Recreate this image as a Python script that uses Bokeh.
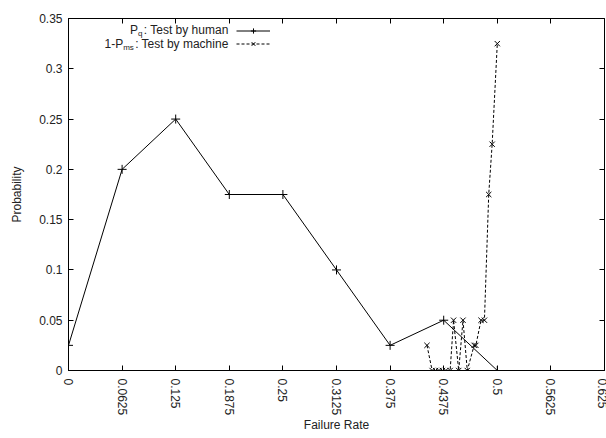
import math
from bokeh.plotting import figure
from bokeh.models import FixedTicker, LinearAxis, Range1d, Legend, LegendItem, Label
from bokeh.embed import file_html
from bokeh.resources import INLINE

# ---- data ----
human_x = [0.0, 0.0625, 0.125, 0.1875, 0.25, 0.3125, 0.375, 0.4375, 0.5]
human_y = [0.025, 0.2, 0.25, 0.175, 0.175, 0.1, 0.025, 0.05, 0.0]

machine_x = [0.418, 0.424, 0.428, 0.432, 0.436, 0.440, 0.445, 0.449, 0.455,
             0.460, 0.465, 0.473, 0.475, 0.481, 0.485, 0.490, 0.494, 0.500]
machine_y = [0.025, 0.0, 0.0, 0.0, 0.0, 0.0, 0.0, 0.05, 0.0,
             0.05, 0.0, 0.025, 0.025, 0.05, 0.05, 0.175, 0.225, 0.325]

x_ticks = [0.0, 0.0625, 0.125, 0.1875, 0.25, 0.3125, 0.375, 0.4375, 0.5, 0.5625, 0.625]
x_tick_labels = ["0", "0.0625", "0.125", "0.1875", "0.25", "0.3125", "0.375",
                 "0.4375", "0.5", "0.5625", "0.625"]
y_ticks = [0.0, 0.05, 0.1, 0.15, 0.2, 0.25, 0.3, 0.35]
y_tick_labels = ["0", "0.05", "0.1", "0.15", "0.2", "0.25", "0.3", "0.35"]

x_label = "Failure Rate"
y_label = "Probability"

FONT = "Liberation Sans"

p = figure(frame_width=536, frame_height=352,
           x_range=Range1d(0, 0.625), y_range=Range1d(0, 0.35),
           output_backend="svg", toolbar_location=None,
           min_border_left=68, min_border_right=2, min_border_top=18, min_border_bottom=60)
p.xgrid.visible = False
p.ygrid.visible = False
p.outline_line_color = "black"
p.outline_line_alpha = 1.0
p.outline_line_width = 1
p.background_fill_color = "white"
p.border_fill_color = "white"


def style_axis(ax, ticks, labels, show_labels=True):
    ax.ticker = FixedTicker(ticks=ticks)
    ax.major_tick_in = 5
    ax.major_tick_out = 0
    ax.minor_tick_line_color = None
    ax.major_tick_line_color = "black"
    ax.major_label_text_font = FONT
    if show_labels:
        ax.major_label_overrides = {t: l for t, l in zip(ticks, labels)}
        ax.major_label_text_font_size = "12px"
        ax.major_label_text_color = "#222222"
    else:
        ax.major_label_overrides = {t: "" for t in ticks}
        ax.major_label_text_font_size = "0px"
        ax.major_label_standoff = 0


xa = p.xaxis[0]
ya = p.yaxis[0]
style_axis(xa, x_ticks, x_tick_labels)
style_axis(ya, y_ticks, y_tick_labels)
xa.axis_line_color = "black"
ya.axis_line_color = "black"
xa.major_label_orientation = -math.pi / 2
xa.major_label_standoff = 8
ya.major_label_standoff = 6
xa.axis_label = x_label
ya.axis_label = y_label
for ax in (xa, ya):
    ax.axis_label_text_font = FONT
    ax.axis_label_text_font_size = "12px"
    ax.axis_label_text_font_style = "normal"
    ax.axis_label_text_color = "#222222"
xa.axis_label_standoff = 0
ya.axis_label_standoff = 12

top_ax = LinearAxis(axis_line_color=None)
style_axis(top_ax, x_ticks, x_tick_labels, show_labels=False)
p.add_layout(top_ax, "above")
right_ax = LinearAxis(axis_line_color=None)
style_axis(right_ax, y_ticks, y_tick_labels, show_labels=False)
p.add_layout(right_ax, "right")

# ---- series ----
h_line = p.line(human_x, human_y, line_color="black", line_width=1)
h_pts = p.scatter(human_x, human_y, marker="cross", size=9, line_color="black", line_width=1)
m_line = p.line(machine_x, machine_y, line_color="black", line_width=1, line_dash="3 2")
m_pts = p.scatter(machine_x, machine_y, marker="x", size=7.5, line_color="black", line_width=1)

# ---- legend (gnuplot style: text on the left, sample on the right) ----
legend = Legend(items=[LegendItem(label=" ", renderers=[h_line, h_pts]),
                       LegendItem(label=" ", renderers=[m_line, m_pts])],
                location=(168, 320), orientation="vertical",
                glyph_width=34, glyph_height=13, label_height=13, label_width=0,
                label_standoff=0, label_text_font_size="1px", padding=0, margin=0,
                spacing=0, border_line_color=None, background_fill_alpha=0)
p.add_layout(legend, "center")

xend = 0.1866
row1 = 0.3381
row2 = 0.3251
sub = 0.0035
common = dict(text_font=FONT, text_color="#222222", text_align="right", text_baseline="middle")
p.add_layout(Label(x=xend, y=row1, text=": Test by human", text_font_size="12px", **common))
p.add_layout(Label(x=xend - 0.1003, y=row1 - sub, text="q", text_font_size="8px", **common))
p.add_layout(Label(x=xend - 0.1003 - 0.0052, y=row1, text="P", text_font_size="12px", **common))
p.add_layout(Label(x=xend, y=row2, text=": Test by machine", text_font_size="12px", **common))
p.add_layout(Label(x=xend - 0.1104, y=row2 - sub, text="ms", text_font_size="8px", **common))
p.add_layout(Label(x=xend - 0.1104 - 0.0125, y=row2, text="1-P", text_font_size="12px", **common))

open("out.html", "w").write(file_html(p, INLINE))
